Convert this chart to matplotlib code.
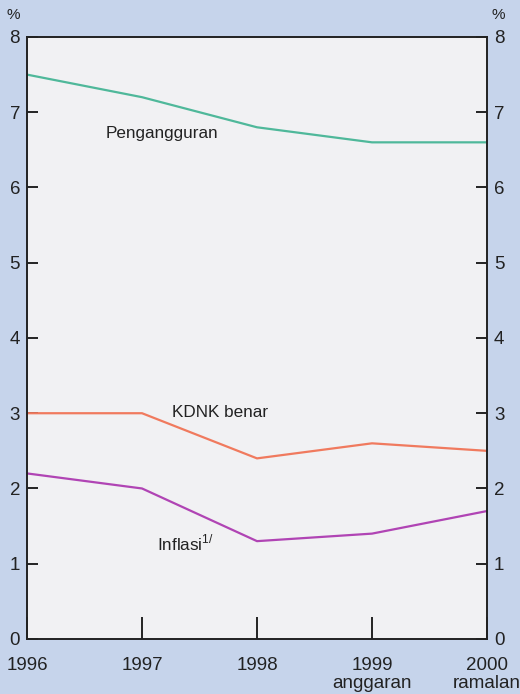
import matplotlib
matplotlib.use("Agg")
import matplotlib.pyplot as plt

plt.rcParams['font.family'] = ['Liberation Sans', 'DejaVu Sans']

# data (percent)
years = [1996, 1997, 1998, 1999, 2000]
year_labels = ['1996', '1997', '1998', '1999\nanggaran', '2000\nramalan']
pengangguran = [7.5, 7.2, 6.8, 6.6, 6.6]
kdnk_benar = [3.0, 3.0, 2.4, 2.6, 2.5]
inflasi = [2.2, 2.0, 1.3, 1.4, 1.7]

bg = '#c6d4eb'
ink = '#222222'
fig = plt.figure(figsize=(5.2, 6.94), dpi=100, facecolor=bg)
ax = fig.add_axes([0.052, 0.0793, 0.8845, 0.8674])
ax.set_facecolor('#f1f1f3')

ax.plot(years, pengangguran, color='#4fb89a', lw=1.6)
ax.plot(years, kdnk_benar, color='#f07a5e', lw=1.6)
ax.plot(years, inflasi, color='#b044b4', lw=1.6)

ax.set_xlim(1996, 2000)
ax.set_ylim(0, 8)
ax.set_yticks(range(0, 9))
ax.set_xticks(years)
ax.set_xticklabels(year_labels, fontsize=13.5, color=ink, linespacing=1.1)
ax.tick_params(axis='y', direction='in', length=8, width=1.2, labelsize=13.5,
               left=True, right=True, labelleft=True, labelright=True,
               labelcolor=ink, pad=5)
ax.tick_params(axis='x', direction='in', length=16, width=1.2, pad=13)
for s in ax.spines.values():
    s.set_linewidth(1.4)
    s.set_color(ink)

ax.text(1996.68, 6.72, 'Pengangguran', fontsize=12.3, va='center', color=ink)
ax.text(1997.26, 3.01, 'KDNK benar', fontsize=12.3, va='center', color=ink)
ax.text(1997.13, 1.27, r'Inflasi$^{\mathregular{1/}}$', fontsize=12.3, va='center', color=ink)

fig.text(13 / 520, 1 - 15 / 694, '%', fontsize=11, ha='center', va='center', color=ink)
fig.text(498 / 520, 1 - 15 / 694, '%', fontsize=11, ha='center', va='center', color=ink)

fig.savefig('out.png', dpi=100, facecolor=bg)
